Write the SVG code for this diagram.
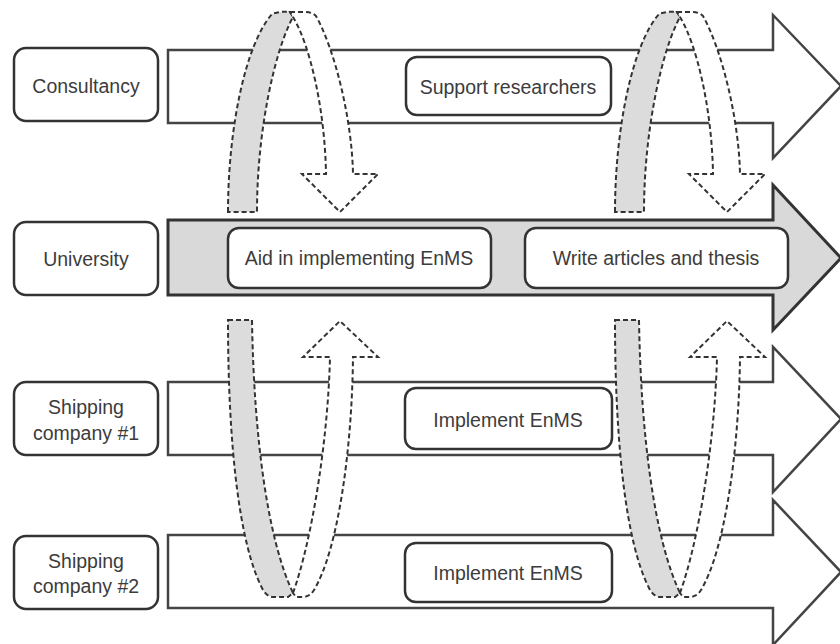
<svg xmlns="http://www.w3.org/2000/svg" width="840" height="644" viewBox="0 0 840 644">
<style>
.bg{fill:#ffffff}
.band{fill:#ffffff;stroke:#444444;stroke-width:2.5;stroke-linejoin:miter}
.band.uni{fill:#d9d9d9;stroke:#333333;stroke-width:3}
.box{fill:#ffffff;stroke:#333333;stroke-width:2.5}
.t{font-family:"Liberation Sans",Arial,sans-serif;font-size:19.5px;fill:#3c3c3c;text-anchor:middle}
.rib{stroke:#333333;stroke-width:2;stroke-dasharray:5 3;stroke-linejoin:miter}
.g{fill:#dcdcdc}
.w{fill:#ffffff}
</style>
<defs>
<g id="loopTop">
<path class="rib g" d="M228,212 C228,130 245,45 272,14 Q280,11 290,12 L293,17 C275,50 257,130 257,212 Z"/>
<path class="rib w" d="M290,12 L305,12 Q312,12 316,16 C335,50 352,120 353,174 L378,174 L340,212 L302,174 L326,174 C325,110 310,45 293,17 Z"/>
</g>
<g id="loopBottom">
<path class="rib g" d="M228,320 L252,320 C254,440 268,540 293,593 L288,597 L272,597 Q266,596 262,588 C240,545 228,450 228,320 Z"/>
<path class="rib w" d="M293,593 C312,540 328,440 330,357 L303,357 L340,321 L378,357 L353,357 C352,450 338,550 314,590 Q310,597 302,597 L296,597 Z"/>
</g>
</defs>
<rect class="bg" x="0" y="0" width="840" height="644"/>

<g id="consultancy">
<path class="band" d="M168,50 L773,50 L773,15 L841,86 L773,158 L773,123 L168,123 Z"/>
<rect class="box" x="14" y="48" width="144" height="73" rx="12"/>
<text class="t" x="86" y="93">Consultancy</text>
<g id="support-researchers">
<rect class="box" x="406" y="57" width="205" height="58" rx="11"/>
<text class="t" x="508" y="94">Support researchers</text>
</g>
</g>

<g id="university">
<path class="band uni" d="M168,220 L773,220 L773,185 L841,258 L773,330 L773,295 L168,295 Z"/>
<rect class="box" x="14" y="222" width="144" height="73" rx="12"/>
<text class="t" x="86" y="266">University</text>
<g id="aid-enms">
<rect class="box" x="228" y="228" width="263" height="60" rx="11"/>
<text class="t" x="359" y="265">Aid in implementing EnMS</text>
</g>
<g id="write-articles">
<rect class="box" x="525" y="228" width="263" height="60" rx="11"/>
<text class="t" x="656" y="265">Write articles and thesis</text>
</g>
</g>

<g id="shipping1">
<path class="band" d="M168,382 L773,382 L773,347 L841,419 L773,492 L773,455 L168,455 Z"/>
<rect class="box" x="14" y="382" width="144" height="73" rx="12"/>
<text class="t" x="86" y="414">Shipping</text>
<text class="t" x="86" y="440">company #1</text>
<g id="implement1">
<rect class="box" x="405" y="388" width="207" height="61" rx="11"/>
<text class="t" x="508" y="427">Implement EnMS</text>
</g>
</g>

<g id="shipping2">
<path class="band" d="M168,535 L773,535 L773,500 L841,572 L773,645 L773,608 L168,608 Z"/>
<rect class="box" x="14" y="536" width="144" height="73" rx="12"/>
<text class="t" x="86" y="568">Shipping</text>
<text class="t" x="86" y="593">company #2</text>
<g id="implement2">
<rect class="box" x="405" y="543" width="207" height="59" rx="11"/>
<text class="t" x="508" y="580">Implement EnMS</text>
</g>
</g>

<g id="connectors">
<use href="#loopTop"/>
<use href="#loopTop" transform="translate(387,0)"/>
<use href="#loopBottom"/>
<use href="#loopBottom" transform="translate(387,0)"/>
</g>
</svg>
